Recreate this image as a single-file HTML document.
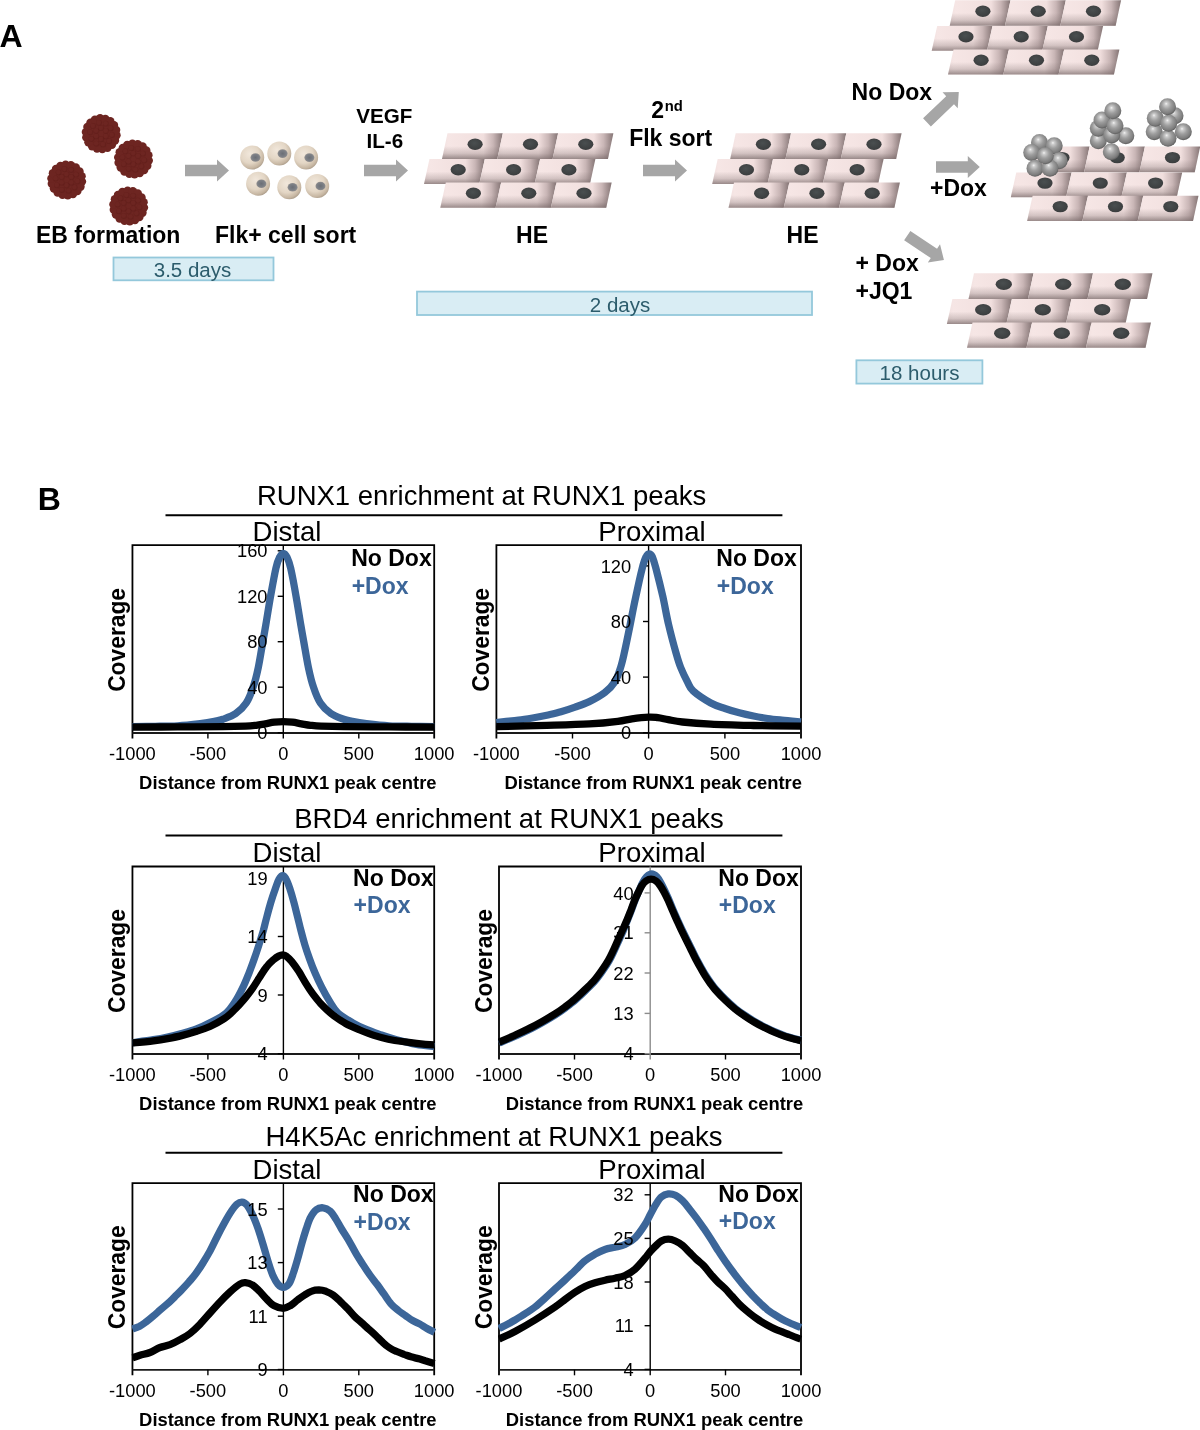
<!DOCTYPE html>
<html><head><meta charset="utf-8"><title>Figure</title>
<style>
html,body{margin:0;padding:0;background:#fff;}
body{width:1200px;height:1430px;overflow:hidden;font-family:"Liberation Sans",sans-serif;}
svg{display:block;font-family:"Liberation Sans",sans-serif;will-change:transform;}
</style></head><body>
<svg width="1200" height="1430" viewBox="0 0 1200 1430">

<defs>
<linearGradient id="cellH" x1="0" y1="0" x2="1" y2="0">
 <stop offset="0" stop-color="#f1e0df"/>
 <stop offset="0.10" stop-color="#f6e6e5"/>
 <stop offset="0.68" stop-color="#f1dfde"/>
 <stop offset="0.84" stop-color="#c9b6b6"/>
 <stop offset="1" stop-color="#857575"/>
</linearGradient>
<linearGradient id="cellV" x1="0" y1="0" x2="0" y2="1">
 <stop offset="0" stop-color="#6e5f5f" stop-opacity="0"/>
 <stop offset="0.5" stop-color="#6e5f5f" stop-opacity="0"/>
 <stop offset="0.78" stop-color="#6e5f5f" stop-opacity="0.25"/>
 <stop offset="1" stop-color="#6e5f5f" stop-opacity="0.68"/>
</linearGradient>
<radialGradient id="nuc" cx="0.45" cy="0.4" r="0.7">
 <stop offset="0" stop-color="#4a4f50"/>
 <stop offset="1" stop-color="#383a3b"/>
</radialGradient>
<radialGradient id="sph" cx="0.46" cy="0.42" r="0.62" fx="0.42" fy="0.32">
 <stop offset="0" stop-color="#f4f4f4"/>
 <stop offset="0.14" stop-color="#cdcdcd"/>
 <stop offset="0.45" stop-color="#9e9e9e"/>
 <stop offset="0.8" stop-color="#7c7c7c"/>
 <stop offset="1" stop-color="#505050"/>
</radialGradient>
<radialGradient id="flk" cx="0.4" cy="0.35" r="0.7">
 <stop offset="0" stop-color="#f1e7db"/>
 <stop offset="0.55" stop-color="#e3d6c5"/>
 <stop offset="0.85" stop-color="#c6b6a2"/>
 <stop offset="1" stop-color="#a59684"/>
</radialGradient>
<radialGradient id="flkn" cx="0.5" cy="0.5" r="0.6">
 <stop offset="0" stop-color="#6b6f76"/>
 <stop offset="0.6" stop-color="#7d8086"/>
 <stop offset="1" stop-color="#a39c96"/>
</radialGradient>
</defs>

<text x="-0.5" y="46.9" font-size="32" font-weight="bold" text-anchor="start" fill="#000" >A</text>
<circle cx="101.2" cy="133.7" r="16.5" fill="#6d2521"/><circle cx="116.5" cy="135.3" r="4.2" fill="#6d2521"/><circle cx="115.0" cy="140.5" r="4.2" fill="#6d2521"/><circle cx="111.9" cy="144.8" r="4.2" fill="#6d2521"/><circle cx="107.5" cy="147.8" r="4.2" fill="#6d2521"/><circle cx="102.3" cy="149.1" r="4.2" fill="#6d2521"/><circle cx="97.0" cy="148.5" r="4.2" fill="#6d2521"/><circle cx="92.1" cy="146.2" r="4.2" fill="#6d2521"/><circle cx="88.4" cy="142.3" r="4.2" fill="#6d2521"/><circle cx="86.3" cy="137.4" r="4.2" fill="#6d2521"/><circle cx="85.9" cy="132.1" r="4.2" fill="#6d2521"/><circle cx="87.4" cy="126.9" r="4.2" fill="#6d2521"/><circle cx="90.5" cy="122.6" r="4.2" fill="#6d2521"/><circle cx="94.9" cy="119.6" r="4.2" fill="#6d2521"/><circle cx="100.1" cy="118.3" r="4.2" fill="#6d2521"/><circle cx="105.4" cy="118.9" r="4.2" fill="#6d2521"/><circle cx="110.3" cy="121.2" r="4.2" fill="#6d2521"/><circle cx="114.0" cy="125.1" r="4.2" fill="#6d2521"/><circle cx="116.1" cy="130.0" r="4.2" fill="#6d2521"/><circle cx="112.1" cy="135.1" r="2.9" fill="#5a1b18" fill-opacity="0.35"/><circle cx="111.7" cy="134.7" r="2.4" fill="#6d2521"/><circle cx="109.2" cy="141.2" r="2.9" fill="#5a1b18" fill-opacity="0.35"/><circle cx="108.8" cy="140.8" r="2.4" fill="#6d2521"/><circle cx="103.3" cy="144.5" r="2.9" fill="#5a1b18" fill-opacity="0.35"/><circle cx="102.9" cy="144.1" r="2.4" fill="#6d2521"/><circle cx="96.5" cy="143.7" r="2.9" fill="#5a1b18" fill-opacity="0.35"/><circle cx="96.1" cy="143.3" r="2.4" fill="#6d2521"/><circle cx="91.6" cy="139.0" r="2.9" fill="#5a1b18" fill-opacity="0.35"/><circle cx="91.2" cy="138.6" r="2.4" fill="#6d2521"/><circle cx="90.3" cy="132.3" r="2.9" fill="#5a1b18" fill-opacity="0.35"/><circle cx="89.9" cy="131.9" r="2.4" fill="#6d2521"/><circle cx="93.2" cy="126.2" r="2.9" fill="#5a1b18" fill-opacity="0.35"/><circle cx="92.8" cy="125.8" r="2.4" fill="#6d2521"/><circle cx="99.1" cy="122.9" r="2.9" fill="#5a1b18" fill-opacity="0.35"/><circle cx="98.7" cy="122.5" r="2.4" fill="#6d2521"/><circle cx="105.9" cy="123.7" r="2.9" fill="#5a1b18" fill-opacity="0.35"/><circle cx="105.5" cy="123.3" r="2.4" fill="#6d2521"/><circle cx="110.8" cy="128.4" r="2.9" fill="#5a1b18" fill-opacity="0.35"/><circle cx="110.4" cy="128.0" r="2.4" fill="#6d2521"/><circle cx="106.0" cy="136.4" r="2.9" fill="#5a1b18" fill-opacity="0.35"/><circle cx="105.6" cy="136.0" r="2.4" fill="#6d2521"/><circle cx="101.2" cy="139.2" r="2.9" fill="#5a1b18" fill-opacity="0.35"/><circle cx="100.8" cy="138.8" r="2.4" fill="#6d2521"/><circle cx="96.4" cy="136.4" r="2.9" fill="#5a1b18" fill-opacity="0.35"/><circle cx="96.0" cy="136.0" r="2.4" fill="#6d2521"/><circle cx="96.4" cy="130.9" r="2.9" fill="#5a1b18" fill-opacity="0.35"/><circle cx="96.0" cy="130.5" r="2.4" fill="#6d2521"/><circle cx="101.2" cy="128.2" r="2.9" fill="#5a1b18" fill-opacity="0.35"/><circle cx="100.8" cy="127.8" r="2.4" fill="#6d2521"/><circle cx="106.0" cy="130.9" r="2.9" fill="#5a1b18" fill-opacity="0.35"/><circle cx="105.6" cy="130.5" r="2.4" fill="#6d2521"/>
<circle cx="133.5" cy="159" r="16.5" fill="#6d2521"/><circle cx="148.8" cy="160.6" r="4.2" fill="#6d2521"/><circle cx="147.3" cy="165.8" r="4.2" fill="#6d2521"/><circle cx="144.2" cy="170.1" r="4.2" fill="#6d2521"/><circle cx="139.8" cy="173.1" r="4.2" fill="#6d2521"/><circle cx="134.6" cy="174.4" r="4.2" fill="#6d2521"/><circle cx="129.3" cy="173.8" r="4.2" fill="#6d2521"/><circle cx="124.4" cy="171.5" r="4.2" fill="#6d2521"/><circle cx="120.7" cy="167.6" r="4.2" fill="#6d2521"/><circle cx="118.6" cy="162.7" r="4.2" fill="#6d2521"/><circle cx="118.2" cy="157.4" r="4.2" fill="#6d2521"/><circle cx="119.7" cy="152.2" r="4.2" fill="#6d2521"/><circle cx="122.8" cy="147.9" r="4.2" fill="#6d2521"/><circle cx="127.2" cy="144.9" r="4.2" fill="#6d2521"/><circle cx="132.4" cy="143.6" r="4.2" fill="#6d2521"/><circle cx="137.7" cy="144.2" r="4.2" fill="#6d2521"/><circle cx="142.6" cy="146.5" r="4.2" fill="#6d2521"/><circle cx="146.3" cy="150.4" r="4.2" fill="#6d2521"/><circle cx="148.4" cy="155.3" r="4.2" fill="#6d2521"/><circle cx="144.4" cy="160.4" r="2.9" fill="#5a1b18" fill-opacity="0.35"/><circle cx="144.0" cy="160.0" r="2.4" fill="#6d2521"/><circle cx="141.5" cy="166.5" r="2.9" fill="#5a1b18" fill-opacity="0.35"/><circle cx="141.1" cy="166.1" r="2.4" fill="#6d2521"/><circle cx="135.6" cy="169.8" r="2.9" fill="#5a1b18" fill-opacity="0.35"/><circle cx="135.2" cy="169.4" r="2.4" fill="#6d2521"/><circle cx="128.8" cy="169.0" r="2.9" fill="#5a1b18" fill-opacity="0.35"/><circle cx="128.4" cy="168.6" r="2.4" fill="#6d2521"/><circle cx="123.9" cy="164.3" r="2.9" fill="#5a1b18" fill-opacity="0.35"/><circle cx="123.5" cy="163.9" r="2.4" fill="#6d2521"/><circle cx="122.6" cy="157.6" r="2.9" fill="#5a1b18" fill-opacity="0.35"/><circle cx="122.2" cy="157.2" r="2.4" fill="#6d2521"/><circle cx="125.5" cy="151.5" r="2.9" fill="#5a1b18" fill-opacity="0.35"/><circle cx="125.1" cy="151.1" r="2.4" fill="#6d2521"/><circle cx="131.4" cy="148.2" r="2.9" fill="#5a1b18" fill-opacity="0.35"/><circle cx="131.0" cy="147.8" r="2.4" fill="#6d2521"/><circle cx="138.2" cy="149.0" r="2.9" fill="#5a1b18" fill-opacity="0.35"/><circle cx="137.8" cy="148.6" r="2.4" fill="#6d2521"/><circle cx="143.1" cy="153.7" r="2.9" fill="#5a1b18" fill-opacity="0.35"/><circle cx="142.7" cy="153.3" r="2.4" fill="#6d2521"/><circle cx="138.3" cy="161.8" r="2.9" fill="#5a1b18" fill-opacity="0.35"/><circle cx="137.9" cy="161.3" r="2.4" fill="#6d2521"/><circle cx="133.5" cy="164.5" r="2.9" fill="#5a1b18" fill-opacity="0.35"/><circle cx="133.1" cy="164.1" r="2.4" fill="#6d2521"/><circle cx="128.7" cy="161.8" r="2.9" fill="#5a1b18" fill-opacity="0.35"/><circle cx="128.3" cy="161.3" r="2.4" fill="#6d2521"/><circle cx="128.7" cy="156.2" r="2.9" fill="#5a1b18" fill-opacity="0.35"/><circle cx="128.3" cy="155.8" r="2.4" fill="#6d2521"/><circle cx="133.5" cy="153.5" r="2.9" fill="#5a1b18" fill-opacity="0.35"/><circle cx="133.1" cy="153.1" r="2.4" fill="#6d2521"/><circle cx="138.3" cy="156.2" r="2.9" fill="#5a1b18" fill-opacity="0.35"/><circle cx="137.9" cy="155.8" r="2.4" fill="#6d2521"/>
<circle cx="66.7" cy="180" r="16.5" fill="#6d2521"/><circle cx="82.0" cy="181.6" r="4.2" fill="#6d2521"/><circle cx="80.5" cy="186.8" r="4.2" fill="#6d2521"/><circle cx="77.4" cy="191.1" r="4.2" fill="#6d2521"/><circle cx="73.0" cy="194.1" r="4.2" fill="#6d2521"/><circle cx="67.8" cy="195.4" r="4.2" fill="#6d2521"/><circle cx="62.5" cy="194.8" r="4.2" fill="#6d2521"/><circle cx="57.6" cy="192.5" r="4.2" fill="#6d2521"/><circle cx="53.9" cy="188.6" r="4.2" fill="#6d2521"/><circle cx="51.8" cy="183.7" r="4.2" fill="#6d2521"/><circle cx="51.4" cy="178.4" r="4.2" fill="#6d2521"/><circle cx="52.9" cy="173.2" r="4.2" fill="#6d2521"/><circle cx="56.0" cy="168.9" r="4.2" fill="#6d2521"/><circle cx="60.4" cy="165.9" r="4.2" fill="#6d2521"/><circle cx="65.6" cy="164.6" r="4.2" fill="#6d2521"/><circle cx="70.9" cy="165.2" r="4.2" fill="#6d2521"/><circle cx="75.8" cy="167.5" r="4.2" fill="#6d2521"/><circle cx="79.5" cy="171.4" r="4.2" fill="#6d2521"/><circle cx="81.6" cy="176.3" r="4.2" fill="#6d2521"/><circle cx="77.6" cy="181.4" r="2.9" fill="#5a1b18" fill-opacity="0.35"/><circle cx="77.2" cy="181.0" r="2.4" fill="#6d2521"/><circle cx="74.7" cy="187.5" r="2.9" fill="#5a1b18" fill-opacity="0.35"/><circle cx="74.3" cy="187.1" r="2.4" fill="#6d2521"/><circle cx="68.8" cy="190.8" r="2.9" fill="#5a1b18" fill-opacity="0.35"/><circle cx="68.4" cy="190.4" r="2.4" fill="#6d2521"/><circle cx="62.0" cy="190.0" r="2.9" fill="#5a1b18" fill-opacity="0.35"/><circle cx="61.6" cy="189.6" r="2.4" fill="#6d2521"/><circle cx="57.1" cy="185.3" r="2.9" fill="#5a1b18" fill-opacity="0.35"/><circle cx="56.7" cy="184.9" r="2.4" fill="#6d2521"/><circle cx="55.8" cy="178.6" r="2.9" fill="#5a1b18" fill-opacity="0.35"/><circle cx="55.4" cy="178.2" r="2.4" fill="#6d2521"/><circle cx="58.7" cy="172.5" r="2.9" fill="#5a1b18" fill-opacity="0.35"/><circle cx="58.3" cy="172.1" r="2.4" fill="#6d2521"/><circle cx="64.6" cy="169.2" r="2.9" fill="#5a1b18" fill-opacity="0.35"/><circle cx="64.2" cy="168.8" r="2.4" fill="#6d2521"/><circle cx="71.4" cy="170.0" r="2.9" fill="#5a1b18" fill-opacity="0.35"/><circle cx="71.0" cy="169.6" r="2.4" fill="#6d2521"/><circle cx="76.3" cy="174.7" r="2.9" fill="#5a1b18" fill-opacity="0.35"/><circle cx="75.9" cy="174.3" r="2.4" fill="#6d2521"/><circle cx="71.5" cy="182.8" r="2.9" fill="#5a1b18" fill-opacity="0.35"/><circle cx="71.1" cy="182.3" r="2.4" fill="#6d2521"/><circle cx="66.7" cy="185.5" r="2.9" fill="#5a1b18" fill-opacity="0.35"/><circle cx="66.3" cy="185.1" r="2.4" fill="#6d2521"/><circle cx="61.9" cy="182.8" r="2.9" fill="#5a1b18" fill-opacity="0.35"/><circle cx="61.5" cy="182.3" r="2.4" fill="#6d2521"/><circle cx="61.9" cy="177.2" r="2.9" fill="#5a1b18" fill-opacity="0.35"/><circle cx="61.5" cy="176.8" r="2.4" fill="#6d2521"/><circle cx="66.7" cy="174.5" r="2.9" fill="#5a1b18" fill-opacity="0.35"/><circle cx="66.3" cy="174.1" r="2.4" fill="#6d2521"/><circle cx="71.5" cy="177.2" r="2.9" fill="#5a1b18" fill-opacity="0.35"/><circle cx="71.1" cy="176.8" r="2.4" fill="#6d2521"/>
<circle cx="128.7" cy="206" r="16.5" fill="#6d2521"/><circle cx="144.0" cy="207.6" r="4.2" fill="#6d2521"/><circle cx="142.5" cy="212.8" r="4.2" fill="#6d2521"/><circle cx="139.4" cy="217.1" r="4.2" fill="#6d2521"/><circle cx="135.0" cy="220.1" r="4.2" fill="#6d2521"/><circle cx="129.8" cy="221.4" r="4.2" fill="#6d2521"/><circle cx="124.5" cy="220.8" r="4.2" fill="#6d2521"/><circle cx="119.6" cy="218.5" r="4.2" fill="#6d2521"/><circle cx="115.9" cy="214.6" r="4.2" fill="#6d2521"/><circle cx="113.8" cy="209.7" r="4.2" fill="#6d2521"/><circle cx="113.4" cy="204.4" r="4.2" fill="#6d2521"/><circle cx="114.9" cy="199.2" r="4.2" fill="#6d2521"/><circle cx="118.0" cy="194.9" r="4.2" fill="#6d2521"/><circle cx="122.4" cy="191.9" r="4.2" fill="#6d2521"/><circle cx="127.6" cy="190.6" r="4.2" fill="#6d2521"/><circle cx="132.9" cy="191.2" r="4.2" fill="#6d2521"/><circle cx="137.8" cy="193.5" r="4.2" fill="#6d2521"/><circle cx="141.5" cy="197.4" r="4.2" fill="#6d2521"/><circle cx="143.6" cy="202.3" r="4.2" fill="#6d2521"/><circle cx="139.6" cy="207.4" r="2.9" fill="#5a1b18" fill-opacity="0.35"/><circle cx="139.2" cy="207.0" r="2.4" fill="#6d2521"/><circle cx="136.7" cy="213.5" r="2.9" fill="#5a1b18" fill-opacity="0.35"/><circle cx="136.3" cy="213.1" r="2.4" fill="#6d2521"/><circle cx="130.8" cy="216.8" r="2.9" fill="#5a1b18" fill-opacity="0.35"/><circle cx="130.4" cy="216.4" r="2.4" fill="#6d2521"/><circle cx="124.0" cy="216.0" r="2.9" fill="#5a1b18" fill-opacity="0.35"/><circle cx="123.6" cy="215.6" r="2.4" fill="#6d2521"/><circle cx="119.1" cy="211.3" r="2.9" fill="#5a1b18" fill-opacity="0.35"/><circle cx="118.7" cy="210.9" r="2.4" fill="#6d2521"/><circle cx="117.8" cy="204.6" r="2.9" fill="#5a1b18" fill-opacity="0.35"/><circle cx="117.4" cy="204.2" r="2.4" fill="#6d2521"/><circle cx="120.7" cy="198.5" r="2.9" fill="#5a1b18" fill-opacity="0.35"/><circle cx="120.3" cy="198.1" r="2.4" fill="#6d2521"/><circle cx="126.6" cy="195.2" r="2.9" fill="#5a1b18" fill-opacity="0.35"/><circle cx="126.2" cy="194.8" r="2.4" fill="#6d2521"/><circle cx="133.4" cy="196.0" r="2.9" fill="#5a1b18" fill-opacity="0.35"/><circle cx="133.0" cy="195.6" r="2.4" fill="#6d2521"/><circle cx="138.3" cy="200.7" r="2.9" fill="#5a1b18" fill-opacity="0.35"/><circle cx="137.9" cy="200.3" r="2.4" fill="#6d2521"/><circle cx="133.5" cy="208.8" r="2.9" fill="#5a1b18" fill-opacity="0.35"/><circle cx="133.1" cy="208.3" r="2.4" fill="#6d2521"/><circle cx="128.7" cy="211.5" r="2.9" fill="#5a1b18" fill-opacity="0.35"/><circle cx="128.3" cy="211.1" r="2.4" fill="#6d2521"/><circle cx="123.9" cy="208.8" r="2.9" fill="#5a1b18" fill-opacity="0.35"/><circle cx="123.5" cy="208.3" r="2.4" fill="#6d2521"/><circle cx="123.9" cy="203.2" r="2.9" fill="#5a1b18" fill-opacity="0.35"/><circle cx="123.5" cy="202.8" r="2.4" fill="#6d2521"/><circle cx="128.7" cy="200.5" r="2.9" fill="#5a1b18" fill-opacity="0.35"/><circle cx="128.3" cy="200.1" r="2.4" fill="#6d2521"/><circle cx="133.5" cy="203.2" r="2.9" fill="#5a1b18" fill-opacity="0.35"/><circle cx="133.1" cy="202.8" r="2.4" fill="#6d2521"/>
<text x="36" y="242.7" font-size="23" font-weight="bold" text-anchor="start" fill="#000" >EB formation</text>
<polygon points="185.0,164.8 217.0,164.8 217.0,159.5 229.0,170.5 217.0,181.5 217.0,176.2 185.0,176.2" fill="#a6a6a6"/>
<circle cx="252.2" cy="157.5" r="12" fill="url(#flk)"/>
<ellipse cx="255.5" cy="157.5" rx="5" ry="4.3" fill="url(#flkn)"/>
<circle cx="279.3" cy="153.6" r="12" fill="url(#flk)"/>
<ellipse cx="282.6" cy="153.6" rx="5" ry="4.3" fill="url(#flkn)"/>
<circle cx="306.1" cy="157.6" r="12" fill="url(#flk)"/>
<ellipse cx="309.40000000000003" cy="157.6" rx="5" ry="4.3" fill="url(#flkn)"/>
<circle cx="258.1" cy="183.7" r="12" fill="url(#flk)"/>
<ellipse cx="261.40000000000003" cy="183.7" rx="5" ry="4.3" fill="url(#flkn)"/>
<circle cx="289.3" cy="187.2" r="12" fill="url(#flk)"/>
<ellipse cx="292.6" cy="187.2" rx="5" ry="4.3" fill="url(#flkn)"/>
<circle cx="317.2" cy="186" r="12" fill="url(#flk)"/>
<ellipse cx="320.5" cy="186" rx="5" ry="4.3" fill="url(#flkn)"/>
<text x="215" y="242.7" font-size="23" font-weight="bold" text-anchor="start" fill="#000" >Flk+ cell sort</text>
<text x="384.4" y="123.3" font-size="20.6" font-weight="bold" text-anchor="middle" fill="#000" >VEGF</text>
<text x="384.8" y="147.9" font-size="20.6" font-weight="bold" text-anchor="middle" fill="#000" >IL-6</text>
<polygon points="364.0,164.8 396.0,164.8 396.0,159.5 408.0,170.5 396.0,181.5 396.0,176.2 364.0,176.2" fill="#a6a6a6"/>
<polygon points="447.5,133.3 502.8,133.3 497.3,158.9 442.0,158.9" fill="url(#cellH)"/>
<polygon points="447.5,133.3 502.8,133.3 497.3,158.9 442.0,158.9" fill="url(#cellV)"/>
<ellipse cx="475.1" cy="144.3" rx="7.6" ry="5.7" fill="url(#nuc)"/>
<polygon points="502.8,133.3 558.1,133.3 552.6,158.9 497.3,158.9" fill="url(#cellH)"/>
<polygon points="502.8,133.3 558.1,133.3 552.6,158.9 497.3,158.9" fill="url(#cellV)"/>
<ellipse cx="530.5" cy="144.3" rx="7.6" ry="5.7" fill="url(#nuc)"/>
<polygon points="558.1,133.3 613.4,133.3 607.9,158.9 552.6,158.9" fill="url(#cellH)"/>
<polygon points="558.1,133.3 613.4,133.3 607.9,158.9 552.6,158.9" fill="url(#cellV)"/>
<ellipse cx="585.8" cy="144.3" rx="7.6" ry="5.7" fill="url(#nuc)"/>
<polygon points="429.5,159.1 484.8,159.1 479.3,183.9 424.0,183.9" fill="url(#cellH)"/>
<polygon points="429.5,159.1 484.8,159.1 479.3,183.9 424.0,183.9" fill="url(#cellV)"/>
<ellipse cx="458.2" cy="169.8" rx="7.6" ry="5.7" fill="url(#nuc)"/>
<polygon points="484.8,159.1 540.1,159.1 534.6,183.9 479.3,183.9" fill="url(#cellH)"/>
<polygon points="484.8,159.1 540.1,159.1 534.6,183.9 479.3,183.9" fill="url(#cellV)"/>
<ellipse cx="513.6" cy="169.8" rx="7.6" ry="5.7" fill="url(#nuc)"/>
<polygon points="540.1,159.1 595.4,159.1 589.9,183.9 534.6,183.9" fill="url(#cellH)"/>
<polygon points="540.1,159.1 595.4,159.1 589.9,183.9 534.6,183.9" fill="url(#cellV)"/>
<ellipse cx="568.9" cy="169.8" rx="7.6" ry="5.7" fill="url(#nuc)"/>
<polygon points="445.8,182.5 501.1,182.5 495.6,207.7 440.3,207.7" fill="url(#cellH)"/>
<polygon points="445.8,182.5 501.1,182.5 495.6,207.7 440.3,207.7" fill="url(#cellV)"/>
<ellipse cx="473.4" cy="193.3" rx="7.6" ry="5.7" fill="url(#nuc)"/>
<polygon points="501.1,182.5 556.4,182.5 550.9,207.7 495.6,207.7" fill="url(#cellH)"/>
<polygon points="501.1,182.5 556.4,182.5 550.9,207.7 495.6,207.7" fill="url(#cellV)"/>
<ellipse cx="528.8" cy="193.3" rx="7.6" ry="5.7" fill="url(#nuc)"/>
<polygon points="556.4,182.5 611.7,182.5 606.2,207.7 550.9,207.7" fill="url(#cellH)"/>
<polygon points="556.4,182.5 611.7,182.5 606.2,207.7 550.9,207.7" fill="url(#cellV)"/>
<ellipse cx="584.0" cy="193.3" rx="7.6" ry="5.7" fill="url(#nuc)"/>
<text x="532" y="242.7" font-size="23" font-weight="bold" text-anchor="middle" fill="#000" >HE</text>
<rect x="113.5" y="257.5" width="160.0" height="22.8" fill="#d9edf4" stroke="#94c8db" stroke-width="1.8"/>
<text x="192.5" y="276.90000000000003" font-size="20.5" font-weight="normal" text-anchor="middle" fill="#2c5c6c" >3.5 days</text>
<rect x="417" y="291.6" width="395.0" height="23.4" fill="#d9edf4" stroke="#94c8db" stroke-width="1.8"/>
<text x="620" y="311.6" font-size="20.5" font-weight="normal" text-anchor="middle" fill="#2c5c6c" >2 days</text>
<text x="651.3" y="118.3" font-size="23" font-weight="bold" fill="#000">2<tspan font-size="14.8" dy="-7.2" dx="0.6">nd</tspan></text>
<text x="670.7" y="145.7" font-size="23" font-weight="bold" text-anchor="middle" fill="#000" >Flk sort</text>
<polygon points="643.0,164.8 675.0,164.8 675.0,159.5 687.0,170.5 675.0,181.5 675.0,176.2 643.0,176.2" fill="#a6a6a6"/>
<polygon points="735.7,133.3 791.0,133.3 785.5,158.9 730.2,158.9" fill="url(#cellH)"/>
<polygon points="735.7,133.3 791.0,133.3 785.5,158.9 730.2,158.9" fill="url(#cellV)"/>
<ellipse cx="763.4" cy="144.3" rx="7.6" ry="5.7" fill="url(#nuc)"/>
<polygon points="791.0,133.3 846.3,133.3 840.8,158.9 785.5,158.9" fill="url(#cellH)"/>
<polygon points="791.0,133.3 846.3,133.3 840.8,158.9 785.5,158.9" fill="url(#cellV)"/>
<ellipse cx="818.6" cy="144.3" rx="7.6" ry="5.7" fill="url(#nuc)"/>
<polygon points="846.3,133.3 901.6,133.3 896.1,158.9 840.8,158.9" fill="url(#cellH)"/>
<polygon points="846.3,133.3 901.6,133.3 896.1,158.9 840.8,158.9" fill="url(#cellV)"/>
<ellipse cx="874.0" cy="144.3" rx="7.6" ry="5.7" fill="url(#nuc)"/>
<polygon points="717.7,159.1 773.0,159.1 767.5,183.9 712.2,183.9" fill="url(#cellH)"/>
<polygon points="717.7,159.1 773.0,159.1 767.5,183.9 712.2,183.9" fill="url(#cellV)"/>
<ellipse cx="746.5" cy="169.8" rx="7.6" ry="5.7" fill="url(#nuc)"/>
<polygon points="773.0,159.1 828.3,159.1 822.8,183.9 767.5,183.9" fill="url(#cellH)"/>
<polygon points="773.0,159.1 828.3,159.1 822.8,183.9 767.5,183.9" fill="url(#cellV)"/>
<ellipse cx="801.8" cy="169.8" rx="7.6" ry="5.7" fill="url(#nuc)"/>
<polygon points="828.3,159.1 883.6,159.1 878.1,183.9 822.8,183.9" fill="url(#cellH)"/>
<polygon points="828.3,159.1 883.6,159.1 878.1,183.9 822.8,183.9" fill="url(#cellV)"/>
<ellipse cx="857.1" cy="169.8" rx="7.6" ry="5.7" fill="url(#nuc)"/>
<polygon points="734.0,182.5 789.3,182.5 783.8,207.7 728.5,207.7" fill="url(#cellH)"/>
<polygon points="734.0,182.5 789.3,182.5 783.8,207.7 728.5,207.7" fill="url(#cellV)"/>
<ellipse cx="761.6" cy="193.3" rx="7.6" ry="5.7" fill="url(#nuc)"/>
<polygon points="789.3,182.5 844.6,182.5 839.1,207.7 783.8,207.7" fill="url(#cellH)"/>
<polygon points="789.3,182.5 844.6,182.5 839.1,207.7 783.8,207.7" fill="url(#cellV)"/>
<ellipse cx="816.9" cy="193.3" rx="7.6" ry="5.7" fill="url(#nuc)"/>
<polygon points="844.6,182.5 899.9,182.5 894.4,207.7 839.1,207.7" fill="url(#cellH)"/>
<polygon points="844.6,182.5 899.9,182.5 894.4,207.7 839.1,207.7" fill="url(#cellV)"/>
<ellipse cx="872.2" cy="193.3" rx="7.6" ry="5.7" fill="url(#nuc)"/>
<text x="802.5" y="242.7" font-size="23" font-weight="bold" text-anchor="middle" fill="#000" >HE</text>
<text x="851.6" y="100" font-size="23" font-weight="bold" text-anchor="start" fill="#000" >No Dox</text>
<polygon points="920.9,101.5 952.9,101.5 952.9,96.2 964.9,107.2 952.9,118.2 952.9,112.8 920.9,112.8" fill="#a6a6a6" transform="rotate(-43.7 942.9 107.2)"/>
<polygon points="955.2,0.2 1010.5,0.2 1005.0,25.8 949.7,25.8" fill="url(#cellH)"/>
<polygon points="955.2,0.2 1010.5,0.2 1005.0,25.8 949.7,25.8" fill="url(#cellV)"/>
<ellipse cx="982.9" cy="11.2" rx="7.6" ry="5.7" fill="url(#nuc)"/>
<polygon points="1010.5,0.2 1065.8,0.2 1060.3,25.8 1005.0,25.8" fill="url(#cellH)"/>
<polygon points="1010.5,0.2 1065.8,0.2 1060.3,25.8 1005.0,25.8" fill="url(#cellV)"/>
<ellipse cx="1038.2" cy="11.2" rx="7.6" ry="5.7" fill="url(#nuc)"/>
<polygon points="1065.8,0.2 1121.1,0.2 1115.6,25.8 1060.3,25.8" fill="url(#cellH)"/>
<polygon points="1065.8,0.2 1121.1,0.2 1115.6,25.8 1060.3,25.8" fill="url(#cellV)"/>
<ellipse cx="1093.5" cy="11.2" rx="7.6" ry="5.7" fill="url(#nuc)"/>
<polygon points="937.2,26.0 992.5,26.0 987.0,50.8 931.7,50.8" fill="url(#cellH)"/>
<polygon points="937.2,26.0 992.5,26.0 987.0,50.8 931.7,50.8" fill="url(#cellV)"/>
<ellipse cx="966.0" cy="36.7" rx="7.6" ry="5.7" fill="url(#nuc)"/>
<polygon points="992.5,26.0 1047.8,26.0 1042.3,50.8 987.0,50.8" fill="url(#cellH)"/>
<polygon points="992.5,26.0 1047.8,26.0 1042.3,50.8 987.0,50.8" fill="url(#cellV)"/>
<ellipse cx="1021.2" cy="36.7" rx="7.6" ry="5.7" fill="url(#nuc)"/>
<polygon points="1047.8,26.0 1103.1,26.0 1097.6,50.8 1042.3,50.8" fill="url(#cellH)"/>
<polygon points="1047.8,26.0 1103.1,26.0 1097.6,50.8 1042.3,50.8" fill="url(#cellV)"/>
<ellipse cx="1076.5" cy="36.7" rx="7.6" ry="5.7" fill="url(#nuc)"/>
<polygon points="953.5,49.4 1008.8,49.4 1003.3,74.6 948.0,74.6" fill="url(#cellH)"/>
<polygon points="953.5,49.4 1008.8,49.4 1003.3,74.6 948.0,74.6" fill="url(#cellV)"/>
<ellipse cx="981.1" cy="60.2" rx="7.6" ry="5.7" fill="url(#nuc)"/>
<polygon points="1008.8,49.4 1064.1,49.4 1058.6,74.6 1003.3,74.6" fill="url(#cellH)"/>
<polygon points="1008.8,49.4 1064.1,49.4 1058.6,74.6 1003.3,74.6" fill="url(#cellV)"/>
<ellipse cx="1036.5" cy="60.2" rx="7.6" ry="5.7" fill="url(#nuc)"/>
<polygon points="1064.1,49.4 1119.4,49.4 1113.9,74.6 1058.6,74.6" fill="url(#cellH)"/>
<polygon points="1064.1,49.4 1119.4,49.4 1113.9,74.6 1058.6,74.6" fill="url(#cellV)"/>
<ellipse cx="1091.8" cy="60.2" rx="7.6" ry="5.7" fill="url(#nuc)"/>
<polygon points="936.0,161.3 967.8,161.3 967.8,156.0 979.8,167.0 967.8,178.0 967.8,172.7 936.0,172.7" fill="#a6a6a6"/>
<text x="930" y="196" font-size="23" font-weight="bold" text-anchor="start" fill="#000" >+Dox</text>
<polygon points="1034.3,146.6 1089.6,146.6 1084.1,172.2 1028.8,172.2" fill="url(#cellH)"/>
<polygon points="1034.3,146.6 1089.6,146.6 1084.1,172.2 1028.8,172.2" fill="url(#cellV)"/>
<ellipse cx="1062.0" cy="157.6" rx="7.6" ry="5.7" fill="url(#nuc)"/>
<polygon points="1089.6,146.6 1144.9,146.6 1139.4,172.2 1084.1,172.2" fill="url(#cellH)"/>
<polygon points="1089.6,146.6 1144.9,146.6 1139.4,172.2 1084.1,172.2" fill="url(#cellV)"/>
<ellipse cx="1117.2" cy="157.6" rx="7.6" ry="5.7" fill="url(#nuc)"/>
<polygon points="1144.9,146.6 1200.2,146.6 1194.7,172.2 1139.4,172.2" fill="url(#cellH)"/>
<polygon points="1144.9,146.6 1200.2,146.6 1194.7,172.2 1139.4,172.2" fill="url(#cellV)"/>
<ellipse cx="1172.5" cy="157.6" rx="7.6" ry="5.7" fill="url(#nuc)"/>
<polygon points="1016.3,172.4 1071.6,172.4 1066.1,197.2 1010.8,197.2" fill="url(#cellH)"/>
<polygon points="1016.3,172.4 1071.6,172.4 1066.1,197.2 1010.8,197.2" fill="url(#cellV)"/>
<ellipse cx="1045.0" cy="183.1" rx="7.6" ry="5.7" fill="url(#nuc)"/>
<polygon points="1071.6,172.4 1126.9,172.4 1121.4,197.2 1066.1,197.2" fill="url(#cellH)"/>
<polygon points="1071.6,172.4 1126.9,172.4 1121.4,197.2 1066.1,197.2" fill="url(#cellV)"/>
<ellipse cx="1100.3" cy="183.1" rx="7.6" ry="5.7" fill="url(#nuc)"/>
<polygon points="1126.9,172.4 1182.2,172.4 1176.7,197.2 1121.4,197.2" fill="url(#cellH)"/>
<polygon points="1126.9,172.4 1182.2,172.4 1176.7,197.2 1121.4,197.2" fill="url(#cellV)"/>
<ellipse cx="1155.6" cy="183.1" rx="7.6" ry="5.7" fill="url(#nuc)"/>
<polygon points="1032.6,195.8 1087.9,195.8 1082.4,221.0 1027.1,221.0" fill="url(#cellH)"/>
<polygon points="1032.6,195.8 1087.9,195.8 1082.4,221.0 1027.1,221.0" fill="url(#cellV)"/>
<ellipse cx="1060.2" cy="206.6" rx="7.6" ry="5.7" fill="url(#nuc)"/>
<polygon points="1087.9,195.8 1143.2,195.8 1137.7,221.0 1082.4,221.0" fill="url(#cellH)"/>
<polygon points="1087.9,195.8 1143.2,195.8 1137.7,221.0 1082.4,221.0" fill="url(#cellV)"/>
<ellipse cx="1115.5" cy="206.6" rx="7.6" ry="5.7" fill="url(#nuc)"/>
<polygon points="1143.2,195.8 1198.5,195.8 1193.0,221.0 1137.7,221.0" fill="url(#cellH)"/>
<polygon points="1143.2,195.8 1198.5,195.8 1193.0,221.0 1137.7,221.0" fill="url(#cellV)"/>
<ellipse cx="1170.8" cy="206.6" rx="7.6" ry="5.7" fill="url(#nuc)"/>
<circle cx="1039.5" cy="142.5" r="8.5" fill="url(#sph)"/>
<circle cx="1054.2" cy="145.8" r="8.5" fill="url(#sph)"/>
<circle cx="1031.7" cy="152.5" r="8.5" fill="url(#sph)"/>
<circle cx="1059.2" cy="160.8" r="8.5" fill="url(#sph)"/>
<circle cx="1035.0" cy="168.3" r="8.5" fill="url(#sph)"/>
<circle cx="1050.0" cy="168.3" r="8.5" fill="url(#sph)"/>
<circle cx="1045.3" cy="155.8" r="8.5" fill="url(#sph)"/>
<circle cx="1111.3" cy="151.7" r="8.5" fill="url(#sph)"/>
<circle cx="1098.3" cy="140.8" r="8.5" fill="url(#sph)"/>
<circle cx="1125.8" cy="135.8" r="8.5" fill="url(#sph)"/>
<circle cx="1098.3" cy="128.3" r="8.5" fill="url(#sph)"/>
<circle cx="1111.7" cy="135.0" r="8.5" fill="url(#sph)"/>
<circle cx="1102.0" cy="120.0" r="8.5" fill="url(#sph)"/>
<circle cx="1115.0" cy="125.8" r="8.5" fill="url(#sph)"/>
<circle cx="1112.8" cy="110.8" r="8.5" fill="url(#sph)"/>
<circle cx="1175.0" cy="115.8" r="8.5" fill="url(#sph)"/>
<circle cx="1183.3" cy="131.7" r="8.5" fill="url(#sph)"/>
<circle cx="1154.2" cy="131.7" r="8.5" fill="url(#sph)"/>
<circle cx="1168.0" cy="138.3" r="8.5" fill="url(#sph)"/>
<circle cx="1155.3" cy="118.3" r="8.5" fill="url(#sph)"/>
<circle cx="1168.7" cy="123.3" r="8.5" fill="url(#sph)"/>
<circle cx="1167.5" cy="106.7" r="8.5" fill="url(#sph)"/>
<polygon points="903.6,242.2 935.6,242.2 935.6,236.8 947.6,247.8 935.6,258.8 935.6,253.5 903.6,253.5" fill="#a6a6a6" transform="rotate(33.6 925.6 247.8)"/>
<text x="855.5" y="270.8" font-size="23" font-weight="bold" text-anchor="start" fill="#000" >+ Dox</text>
<text x="855.5" y="299" font-size="23" font-weight="bold" text-anchor="start" fill="#000" >+JQ1</text>
<polygon points="974.0,273.3 1033.5,273.3 1028.0,298.9 968.5,298.9" fill="url(#cellH)"/>
<polygon points="974.0,273.3 1033.5,273.3 1028.0,298.9 968.5,298.9" fill="url(#cellV)"/>
<ellipse cx="1003.8" cy="284.3" rx="8.177215189873417" ry="5.7" fill="url(#nuc)"/>
<polygon points="1033.5,273.3 1093.0,273.3 1087.5,298.9 1028.0,298.9" fill="url(#cellH)"/>
<polygon points="1033.5,273.3 1093.0,273.3 1087.5,298.9 1028.0,298.9" fill="url(#cellV)"/>
<ellipse cx="1063.2" cy="284.3" rx="8.177215189873417" ry="5.7" fill="url(#nuc)"/>
<polygon points="1093.0,273.3 1152.5,273.3 1147.0,298.9 1087.5,298.9" fill="url(#cellH)"/>
<polygon points="1093.0,273.3 1152.5,273.3 1147.0,298.9 1087.5,298.9" fill="url(#cellV)"/>
<ellipse cx="1122.8" cy="284.3" rx="8.177215189873417" ry="5.7" fill="url(#nuc)"/>
<polygon points="952.4,299.1 1011.9,299.1 1006.4,323.9 946.9,323.9" fill="url(#cellH)"/>
<polygon points="952.4,299.1 1011.9,299.1 1006.4,323.9 946.9,323.9" fill="url(#cellV)"/>
<ellipse cx="983.2" cy="309.8" rx="8.177215189873417" ry="5.7" fill="url(#nuc)"/>
<polygon points="1011.9,299.1 1071.4,299.1 1065.9,323.9 1006.4,323.9" fill="url(#cellH)"/>
<polygon points="1011.9,299.1 1071.4,299.1 1065.9,323.9 1006.4,323.9" fill="url(#cellV)"/>
<ellipse cx="1042.8" cy="309.8" rx="8.177215189873417" ry="5.7" fill="url(#nuc)"/>
<polygon points="1071.4,299.1 1130.9,299.1 1125.4,323.9 1065.9,323.9" fill="url(#cellH)"/>
<polygon points="1071.4,299.1 1130.9,299.1 1125.4,323.9 1065.9,323.9" fill="url(#cellV)"/>
<ellipse cx="1102.2" cy="309.8" rx="8.177215189873417" ry="5.7" fill="url(#nuc)"/>
<polygon points="972.5,322.5 1032.0,322.5 1026.5,347.7 967.0,347.7" fill="url(#cellH)"/>
<polygon points="972.5,322.5 1032.0,322.5 1026.5,347.7 967.0,347.7" fill="url(#cellV)"/>
<ellipse cx="1002.2" cy="333.3" rx="8.177215189873417" ry="5.7" fill="url(#nuc)"/>
<polygon points="1032.0,322.5 1091.5,322.5 1086.0,347.7 1026.5,347.7" fill="url(#cellH)"/>
<polygon points="1032.0,322.5 1091.5,322.5 1086.0,347.7 1026.5,347.7" fill="url(#cellV)"/>
<ellipse cx="1061.8" cy="333.3" rx="8.177215189873417" ry="5.7" fill="url(#nuc)"/>
<polygon points="1091.5,322.5 1151.0,322.5 1145.5,347.7 1086.0,347.7" fill="url(#cellH)"/>
<polygon points="1091.5,322.5 1151.0,322.5 1145.5,347.7 1086.0,347.7" fill="url(#cellV)"/>
<ellipse cx="1121.2" cy="333.3" rx="8.177215189873417" ry="5.7" fill="url(#nuc)"/>
<rect x="856.4" y="360.3" width="126.0" height="23.3" fill="#d9edf4" stroke="#94c8db" stroke-width="1.8"/>
<text x="919.5" y="380.20000000000005" font-size="20.5" font-weight="normal" text-anchor="middle" fill="#2c5c6c" >18 hours</text>
<text x="37.7" y="510" font-size="32" font-weight="bold" text-anchor="start" fill="#000" >B</text>
<text x="706.3" y="505.4" font-size="27.5" font-weight="normal" text-anchor="end" fill="#000" >RUNX1 enrichment at RUNX1 peaks</text>
<line x1="165.5" y1="515.2" x2="782.4" y2="515.2" stroke="#000" stroke-width="2"/>
<path d="M132.45,738.5 V545.2 H434.2 V738.5" fill="none" stroke="#000" stroke-width="1.8"/>
<line x1="132.45" y1="733" x2="434.2" y2="733" stroke="#1a1a1a" stroke-width="1.8"/>
<line x1="283.3" y1="545.2" x2="283.3" y2="738.5" stroke="#000" stroke-width="1.4"/>
<line x1="207.9" y1="733" x2="207.9" y2="738.5" stroke="#000" stroke-width="1.4"/>
<line x1="358.8" y1="733" x2="358.8" y2="738.5" stroke="#000" stroke-width="1.4"/>
<text x="132.4" y="760.4" font-size="18.3" font-weight="normal" text-anchor="middle" fill="#000" >-1000</text>
<text x="207.9" y="760.4" font-size="18.3" font-weight="normal" text-anchor="middle" fill="#000" >-500</text>
<text x="283.3" y="760.4" font-size="18.3" font-weight="normal" text-anchor="middle" fill="#000" >0</text>
<text x="358.8" y="760.4" font-size="18.3" font-weight="normal" text-anchor="middle" fill="#000" >500</text>
<text x="434.2" y="760.4" font-size="18.3" font-weight="normal" text-anchor="middle" fill="#000" >1000</text>
<line x1="277.7" y1="550.8" x2="283.3" y2="550.8" stroke="#000" stroke-width="1.4"/>
<line x1="277.7" y1="596.3" x2="283.3" y2="596.3" stroke="#000" stroke-width="1.4"/>
<line x1="277.7" y1="641.7" x2="283.3" y2="641.7" stroke="#000" stroke-width="1.4"/>
<line x1="277.7" y1="687.2" x2="283.3" y2="687.2" stroke="#000" stroke-width="1.4"/>
<line x1="277.7" y1="732.7" x2="283.3" y2="732.7" stroke="#000" stroke-width="1.4"/>
<clipPath id="clip132_545"><rect x="131.45" y="533.2" width="305.25" height="207.79999999999995"/></clipPath>
<path d="M132.4,726.7 C136.2,726.6 147.5,726.5 155.1,726.3 C162.6,726.2 170.2,726.2 177.7,725.8 C185.2,725.3 194.1,724.3 200.2,723.6 C206.3,722.9 210.6,722.1 214.4,721.3 C218.2,720.6 219.4,720.6 223.0,719.3 C226.5,718.0 231.9,716.3 235.8,713.6 C239.7,710.9 243.3,707.5 246.2,703.1 C249.1,698.7 251.1,693.2 253.1,687.2 C255.2,681.3 256.7,675.0 258.3,667.4 C259.9,659.9 261.5,649.1 262.8,642.0 C264.1,634.9 264.5,632.5 265.8,624.9 C267.1,617.4 268.8,606.1 270.5,596.6 C272.2,587.2 274.4,574.8 275.9,568.2 C277.4,561.6 278.3,559.8 279.6,557.3 C280.8,554.8 282.1,553.3 283.3,553.3 C284.6,553.3 285.9,554.8 287.1,557.3 C288.3,559.8 289.2,561.6 290.7,568.2 C292.2,574.8 294.5,587.2 296.1,596.6 C297.8,606.1 299.5,617.4 300.8,624.9 C302.1,632.5 302.6,634.9 303.8,642.0 C305.1,649.1 306.8,659.9 308.4,667.4 C310.0,675.0 311.5,681.3 313.5,687.2 C315.5,693.2 317.5,698.7 320.4,703.1 C323.3,707.5 327.0,710.9 330.9,713.6 C334.7,716.3 340.1,718.0 343.7,719.3 C347.2,720.6 348.5,720.6 352.3,721.3 C356.1,722.1 360.3,722.9 366.5,723.6 C372.6,724.3 381.4,725.3 388.9,725.8 C396.5,726.2 404.0,726.2 411.6,726.3 C419.1,726.5 430.4,726.6 434.2,726.7" fill="none" stroke="#3c6699" stroke-width="7.3" stroke-linejoin="round" stroke-linecap="butt" clip-path="url(#clip132_545)"/>
<path d="M132.4,727.1 C140.0,727.1 162.6,727.0 177.7,726.9 C192.8,726.8 211.7,726.8 223.0,726.7 C234.3,726.6 240.1,726.4 245.6,726.2 C251.1,726.0 252.9,725.7 256.2,725.3 C259.4,724.9 262.2,724.3 265.2,723.8 C268.2,723.3 271.3,722.6 274.3,722.2 C277.3,721.9 280.3,721.7 283.3,721.7 C286.3,721.7 289.4,721.9 292.4,722.2 C295.4,722.6 298.4,723.3 301.4,723.8 C304.4,724.3 307.2,724.9 310.5,725.3 C313.8,725.7 315.5,726.0 321.0,726.2 C326.6,726.4 332.4,726.6 343.7,726.7 C355.0,726.8 373.9,726.8 388.9,726.9 C404.0,727.0 426.7,727.1 434.2,727.1" fill="none" stroke="#000" stroke-width="7.3" stroke-linejoin="round" stroke-linecap="butt" clip-path="url(#clip132_545)"/>
<text x="267.5" y="557.4" font-size="18.3" font-weight="normal" text-anchor="end" fill="#000" >160</text>
<text x="267.5" y="602.9" font-size="18.3" font-weight="normal" text-anchor="end" fill="#000" >120</text>
<text x="267.5" y="648.3" font-size="18.3" font-weight="normal" text-anchor="end" fill="#000" >80</text>
<text x="267.5" y="693.8" font-size="18.3" font-weight="normal" text-anchor="end" fill="#000" >40</text>
<text x="267.5" y="739.3" font-size="18.3" font-weight="normal" text-anchor="end" fill="#000" >0</text>
<text x="287" y="540.7" font-size="27.6" font-weight="normal" text-anchor="middle" fill="#000" >Distal</text>
<text x="351.2" y="566.0" font-size="23" font-weight="bold" text-anchor="start" fill="#000" >No Dox</text>
<text x="351.7" y="593.5" font-size="23" font-weight="bold" text-anchor="start" fill="#3c6699" >+Dox</text>
<text transform="translate(125.0,639.9) rotate(-90) scale(1,1.06)" font-size="22.8" font-weight="bold" text-anchor="middle">Coverage</text>
<text x="287.825" y="789" font-size="18.4" font-weight="bold" text-anchor="middle" fill="#000" >Distance from RUNX1 peak centre</text>
<path d="M496.4,738.5 V545.2 H801 V738.5" fill="none" stroke="#000" stroke-width="1.8"/>
<line x1="496.4" y1="733" x2="801" y2="733" stroke="#1a1a1a" stroke-width="1.8"/>
<line x1="648.6" y1="545.2" x2="648.6" y2="738.5" stroke="#000" stroke-width="1.4"/>
<line x1="572.5" y1="733" x2="572.5" y2="738.5" stroke="#000" stroke-width="1.4"/>
<line x1="724.9" y1="733" x2="724.9" y2="738.5" stroke="#000" stroke-width="1.4"/>
<text x="496.4" y="760.4" font-size="18.3" font-weight="normal" text-anchor="middle" fill="#000" >-1000</text>
<text x="572.5" y="760.4" font-size="18.3" font-weight="normal" text-anchor="middle" fill="#000" >-500</text>
<text x="648.7" y="760.4" font-size="18.3" font-weight="normal" text-anchor="middle" fill="#000" >0</text>
<text x="724.9" y="760.4" font-size="18.3" font-weight="normal" text-anchor="middle" fill="#000" >500</text>
<text x="801.0" y="760.4" font-size="18.3" font-weight="normal" text-anchor="middle" fill="#000" >1000</text>
<line x1="643.0" y1="565.9" x2="648.6" y2="565.9" stroke="#000" stroke-width="1.4"/>
<line x1="643.0" y1="621.5" x2="648.6" y2="621.5" stroke="#000" stroke-width="1.4"/>
<line x1="643.0" y1="677.1" x2="648.6" y2="677.1" stroke="#000" stroke-width="1.4"/>
<line x1="643.0" y1="732.7" x2="648.6" y2="732.7" stroke="#000" stroke-width="1.4"/>
<clipPath id="clip496_545"><rect x="495.4" y="533.2" width="308.1" height="207.79999999999995"/></clipPath>
<path d="M496.4,722.7 C497.7,722.5 500.5,722.1 504.2,721.7 C507.8,721.3 513.7,720.8 518.5,720.2 C523.2,719.6 527.9,718.8 532.6,718.0 C537.4,717.1 542.1,716.2 546.8,715.2 C551.5,714.1 556.3,713.1 561.0,711.7 C565.7,710.4 570.4,708.8 575.1,707.1 C579.9,705.4 584.3,704.0 589.3,701.6 C594.3,699.1 600.7,695.6 605.0,692.3 C609.3,688.9 612.3,685.8 614.9,681.7 C617.5,677.6 619.1,672.2 620.6,667.5 C622.1,662.8 622.6,660.4 624.2,653.3 C625.8,646.2 628.2,634.4 630.1,625.0 C632.0,615.5 633.7,606.2 635.8,596.8 C637.8,587.3 640.5,574.9 642.2,568.3 C643.9,561.6 644.8,559.3 646.0,556.9 C647.1,554.5 648.1,553.9 649.2,553.9 C650.2,553.9 651.2,554.5 652.4,556.9 C653.5,559.3 654.1,561.6 655.9,568.3 C657.6,574.9 660.7,587.3 662.9,596.8 C665.0,606.2 666.4,615.5 668.7,625.0 C670.9,634.4 674.1,646.2 676.1,653.3 C678.1,660.4 678.8,662.8 680.7,667.5 C682.6,672.2 685.3,677.8 687.4,681.7 C689.5,685.6 689.3,687.5 693.2,691.0 C697.1,694.5 705.5,700.0 710.8,703.0 C716.1,705.9 720.3,706.9 725.0,708.5 C729.7,710.2 734.6,711.6 739.3,712.8 C744.1,714.1 748.8,715.1 753.5,716.0 C758.2,717.0 762.9,717.8 767.6,718.5 C772.4,719.2 776.3,719.6 781.8,720.2 C787.4,720.8 797.8,721.7 801.0,722.0" fill="none" stroke="#3c6699" stroke-width="7.3" stroke-linejoin="round" stroke-linecap="butt" clip-path="url(#clip496_545)"/>
<path d="M496.4,726.7 C504.8,726.5 531.3,725.8 546.8,725.3 C562.3,724.9 577.5,724.6 589.3,723.9 C601.1,723.3 610.7,722.2 617.8,721.3 C624.9,720.4 626.8,719.5 631.9,718.8 C637.1,718.1 644.4,717.3 648.7,717.1 C653.0,716.9 654.6,717.3 657.8,717.7 C661.1,718.1 664.2,718.9 668.3,719.6 C672.5,720.4 675.4,721.3 682.5,722.0 C689.6,722.7 699.0,723.5 710.8,724.1 C722.7,724.7 738.5,725.1 753.5,725.5 C768.5,725.8 793.1,726.1 801.0,726.2" fill="none" stroke="#000" stroke-width="7.3" stroke-linejoin="round" stroke-linecap="butt" clip-path="url(#clip496_545)"/>
<text x="631.2" y="572.5" font-size="18.3" font-weight="normal" text-anchor="end" fill="#000" >120</text>
<text x="631.2" y="628.1" font-size="18.3" font-weight="normal" text-anchor="end" fill="#000" >80</text>
<text x="631.2" y="683.7" font-size="18.3" font-weight="normal" text-anchor="end" fill="#000" >40</text>
<text x="631.2" y="739.3" font-size="18.3" font-weight="normal" text-anchor="end" fill="#000" >0</text>
<text x="652" y="540.7" font-size="27.6" font-weight="normal" text-anchor="middle" fill="#000" >Proximal</text>
<text x="716.3" y="566.0" font-size="23" font-weight="bold" text-anchor="start" fill="#000" >No Dox</text>
<text x="716.8" y="593.5" font-size="23" font-weight="bold" text-anchor="start" fill="#3c6699" >+Dox</text>
<text transform="translate(489.0,639.9) rotate(-90) scale(1,1.06)" font-size="22.8" font-weight="bold" text-anchor="middle">Coverage</text>
<text x="653.2" y="789" font-size="18.4" font-weight="bold" text-anchor="middle" fill="#000" >Distance from RUNX1 peak centre</text>
<text x="723.7" y="828" font-size="27.5" font-weight="normal" text-anchor="end" fill="#000" >BRD4 enrichment at RUNX1 peaks</text>
<line x1="165.5" y1="835.6" x2="782.4" y2="835.6" stroke="#000" stroke-width="2"/>
<path d="M132.45,1059.5 V866.5 H434.2 V1059.5" fill="none" stroke="#000" stroke-width="1.8"/>
<line x1="132.45" y1="1054" x2="434.2" y2="1054" stroke="#1a1a1a" stroke-width="1.8"/>
<line x1="283.4" y1="866.5" x2="283.4" y2="1059.5" stroke="#000" stroke-width="1.4"/>
<line x1="207.9" y1="1054" x2="207.9" y2="1059.5" stroke="#000" stroke-width="1.4"/>
<line x1="358.8" y1="1054" x2="358.8" y2="1059.5" stroke="#000" stroke-width="1.4"/>
<text x="132.4" y="1081.4" font-size="18.3" font-weight="normal" text-anchor="middle" fill="#000" >-1000</text>
<text x="207.9" y="1081.4" font-size="18.3" font-weight="normal" text-anchor="middle" fill="#000" >-500</text>
<text x="283.3" y="1081.4" font-size="18.3" font-weight="normal" text-anchor="middle" fill="#000" >0</text>
<text x="358.8" y="1081.4" font-size="18.3" font-weight="normal" text-anchor="middle" fill="#000" >500</text>
<text x="434.2" y="1081.4" font-size="18.3" font-weight="normal" text-anchor="middle" fill="#000" >1000</text>
<line x1="277.8" y1="878.4" x2="283.4" y2="878.4" stroke="#000" stroke-width="1.4"/>
<line x1="277.8" y1="936.5" x2="283.4" y2="936.5" stroke="#000" stroke-width="1.4"/>
<line x1="277.8" y1="995.0" x2="283.4" y2="995.0" stroke="#000" stroke-width="1.4"/>
<line x1="277.8" y1="1053.7" x2="283.4" y2="1053.7" stroke="#000" stroke-width="1.4"/>
<clipPath id="clip132_866"><rect x="131.45" y="854.5" width="305.25" height="207.5"/></clipPath>
<path d="M132.4,1042.7 C135.9,1042.2 147.6,1040.6 153.4,1039.7 C159.3,1038.7 162.9,1038.0 167.6,1037.0 C172.3,1036.0 176.9,1034.8 181.6,1033.5 C186.3,1032.2 191.1,1031.0 195.8,1029.3 C200.5,1027.5 204.9,1025.6 210.0,1022.8 C215.1,1020.1 222.1,1016.5 226.3,1012.9 C230.5,1009.4 232.4,1005.8 235.2,1001.6 C238.0,997.3 240.6,992.2 242.9,987.4 C245.2,982.7 247.0,978.0 248.9,973.3 C250.8,968.6 252.5,963.8 254.2,959.0 C255.9,954.3 257.4,949.7 258.9,945.0 C260.4,940.3 261.9,935.5 263.3,930.8 C264.6,926.0 265.6,921.3 266.9,916.6 C268.1,911.9 269.4,907.1 270.8,902.4 C272.2,897.6 274.1,892.1 275.5,888.2 C276.9,884.3 277.9,881.1 279.1,879.0 C280.3,876.9 281.4,875.6 282.6,875.6 C283.7,875.6 284.9,876.9 286.0,879.0 C287.2,881.1 288.4,884.3 289.7,888.2 C291.0,892.1 292.6,897.6 293.9,902.4 C295.2,907.1 296.3,911.9 297.5,916.6 C298.7,921.3 299.7,926.0 301.0,930.8 C302.2,935.5 303.5,940.3 304.9,945.0 C306.3,949.7 307.9,954.3 309.6,959.0 C311.3,963.8 313.1,968.6 315.2,973.3 C317.2,978.0 319.4,982.7 321.8,987.4 C324.2,992.2 327.1,997.3 329.8,1001.6 C332.5,1005.8 334.0,1009.4 337.8,1012.9 C341.6,1016.5 347.9,1020.0 352.7,1022.8 C357.6,1025.7 362.1,1027.7 366.9,1029.7 C371.7,1031.8 376.5,1033.3 381.4,1035.0 C386.3,1036.7 390.6,1038.1 396.5,1039.7 C402.3,1041.2 410.3,1043.2 416.5,1044.4 C422.8,1045.5 431.3,1046.3 434.2,1046.7" fill="none" stroke="#3c6699" stroke-width="7.3" stroke-linejoin="round" stroke-linecap="butt" clip-path="url(#clip132_866)"/>
<path d="M132.4,1042.9 C135.9,1042.6 147.6,1041.6 153.4,1040.8 C159.3,1040.1 162.9,1039.5 167.6,1038.6 C172.3,1037.7 176.9,1036.8 181.6,1035.6 C186.3,1034.4 191.1,1033.1 195.8,1031.6 C200.5,1030.1 205.3,1028.6 210.0,1026.5 C214.7,1024.3 220.6,1020.9 224.2,1018.6 C227.7,1016.4 228.9,1015.1 231.3,1012.9 C233.6,1010.8 236.0,1008.3 238.4,1005.8 C240.7,1003.2 243.1,1000.5 245.5,997.6 C247.8,994.7 250.2,991.6 252.5,988.3 C254.9,984.9 257.1,981.1 259.5,977.5 C261.8,973.9 264.2,969.8 266.6,966.9 C268.9,963.9 271.6,961.4 273.7,959.6 C275.7,957.8 277.3,956.8 278.8,956.0 C280.3,955.2 281.3,954.9 282.6,954.9 C283.9,955.0 285.1,955.2 286.6,956.4 C288.2,957.5 289.7,959.1 291.8,961.6 C293.8,964.1 296.5,967.9 298.9,971.5 C301.2,975.2 303.6,979.8 306.0,983.6 C308.3,987.4 310.7,991.0 313.0,994.2 C315.4,997.4 317.8,1000.3 320.1,1003.0 C322.5,1005.6 324.9,1007.9 327.2,1010.1 C329.6,1012.3 331.3,1013.8 334.3,1016.1 C337.4,1018.3 341.4,1021.2 345.6,1023.5 C349.9,1025.9 355.1,1028.0 359.8,1030.0 C364.5,1031.9 369.3,1033.8 374.0,1035.4 C378.7,1036.9 383.5,1038.2 388.2,1039.2 C392.9,1040.2 397.6,1040.9 402.4,1041.5 C407.1,1042.2 411.2,1042.7 416.5,1043.3 C421.9,1043.9 431.3,1044.7 434.2,1044.9" fill="none" stroke="#000" stroke-width="7.3" stroke-linejoin="round" stroke-linecap="butt" clip-path="url(#clip132_866)"/>
<text x="267.6" y="885.0" font-size="18.3" font-weight="normal" text-anchor="end" fill="#000" >19</text>
<text x="267.6" y="943.1" font-size="18.3" font-weight="normal" text-anchor="end" fill="#000" >14</text>
<text x="267.6" y="1001.6" font-size="18.3" font-weight="normal" text-anchor="end" fill="#000" >9</text>
<text x="267.6" y="1060.3" font-size="18.3" font-weight="normal" text-anchor="end" fill="#000" >4</text>
<text x="287" y="862.0" font-size="27.6" font-weight="normal" text-anchor="middle" fill="#000" >Distal</text>
<text x="353.1" y="885.8" font-size="23" font-weight="bold" text-anchor="start" fill="#000" >No Dox</text>
<text x="353.6" y="913.0" font-size="23" font-weight="bold" text-anchor="start" fill="#3c6699" >+Dox</text>
<text transform="translate(125.0,961.0) rotate(-90) scale(1,1.06)" font-size="22.8" font-weight="bold" text-anchor="middle">Coverage</text>
<text x="287.825" y="1110" font-size="18.4" font-weight="bold" text-anchor="middle" fill="#000" >Distance from RUNX1 peak centre</text>
<path d="M499,1059.5 V866.5 H801 V1059.5" fill="none" stroke="#000" stroke-width="1.8"/>
<line x1="499" y1="1054" x2="801" y2="1054" stroke="#1a1a1a" stroke-width="1.8"/>
<line x1="650.2" y1="866.5" x2="650.2" y2="1059.5" stroke="#8c8c8c" stroke-width="1.4"/>
<line x1="574.5" y1="1054" x2="574.5" y2="1059.5" stroke="#000" stroke-width="1.4"/>
<line x1="725.5" y1="1054" x2="725.5" y2="1059.5" stroke="#000" stroke-width="1.4"/>
<text x="499.0" y="1081.4" font-size="18.3" font-weight="normal" text-anchor="middle" fill="#000" >-1000</text>
<text x="574.5" y="1081.4" font-size="18.3" font-weight="normal" text-anchor="middle" fill="#000" >-500</text>
<text x="650.0" y="1081.4" font-size="18.3" font-weight="normal" text-anchor="middle" fill="#000" >0</text>
<text x="725.5" y="1081.4" font-size="18.3" font-weight="normal" text-anchor="middle" fill="#000" >500</text>
<text x="801.0" y="1081.4" font-size="18.3" font-weight="normal" text-anchor="middle" fill="#000" >1000</text>
<line x1="644.6" y1="892.9" x2="650.2" y2="892.9" stroke="#8c8c8c" stroke-width="1.4"/>
<line x1="644.6" y1="932.8" x2="650.2" y2="932.8" stroke="#8c8c8c" stroke-width="1.4"/>
<line x1="644.6" y1="973.0" x2="650.2" y2="973.0" stroke="#8c8c8c" stroke-width="1.4"/>
<line x1="644.6" y1="1013.4" x2="650.2" y2="1013.4" stroke="#8c8c8c" stroke-width="1.4"/>
<line x1="644.6" y1="1053.7" x2="650.2" y2="1053.7" stroke="#8c8c8c" stroke-width="1.4"/>
<clipPath id="clip499_866"><rect x="498" y="854.5" width="305.5" height="207.5"/></clipPath>
<path d="M499.0,1043.0 C501.8,1041.8 509.6,1038.7 515.7,1035.9 C521.8,1033.1 529.0,1029.8 535.7,1026.2 C542.4,1022.7 550.7,1017.7 555.7,1014.6 C560.7,1011.5 562.4,1010.2 565.7,1007.7 C569.0,1005.2 572.4,1002.6 575.7,999.7 C579.0,996.8 582.5,993.6 585.7,990.4 C589.0,987.2 592.4,984.0 595.2,980.7 C598.0,977.4 600.4,974.0 602.7,970.7 C605.0,967.4 607.3,964.0 609.2,960.7 C611.1,957.4 612.6,954.0 614.2,950.7 C615.8,947.4 617.2,944.0 618.7,940.7 C620.2,937.4 621.7,934.2 623.2,930.7 C624.7,927.2 626.3,923.2 627.7,919.7 C629.1,916.1 630.4,912.9 631.7,909.5 C633.0,906.1 634.2,902.3 635.5,899.1 C636.8,895.9 638.0,893.1 639.2,890.3 C640.4,887.6 641.4,885.0 642.6,882.7 C643.9,880.4 645.2,878.1 646.7,876.6 C648.2,875.2 650.0,873.9 651.7,873.9 C653.4,873.9 655.2,875.2 656.7,876.6 C658.2,878.1 659.5,880.4 660.8,882.7 C662.1,885.0 663.4,887.7 664.7,890.5 C666.0,893.2 667.3,896.1 668.7,899.2 C670.1,902.4 671.5,906.2 673.0,909.6 C674.5,913.0 675.9,916.3 677.4,919.7 C678.9,923.0 680.4,926.4 682.0,929.7 C683.6,933.0 685.3,936.4 686.9,939.7 C688.6,943.0 690.2,946.4 691.9,949.7 C693.6,953.0 695.3,956.7 696.9,959.7 C698.5,962.7 699.8,965.1 701.3,967.7 C702.8,970.3 704.1,972.8 705.7,975.3 C707.3,977.8 709.0,980.4 710.7,982.7 C712.4,985.0 713.2,986.4 715.7,989.2 C718.2,992.0 722.4,996.5 725.7,999.7 C729.0,1003.0 732.4,1006.0 735.7,1008.7 C739.0,1011.4 742.4,1013.7 745.7,1015.9 C749.0,1018.2 752.4,1020.3 755.7,1022.2 C759.0,1024.1 762.4,1025.8 765.7,1027.5 C769.0,1029.2 772.4,1030.8 775.7,1032.2 C779.0,1033.6 782.4,1035.0 785.7,1036.1 C789.0,1037.2 793.2,1038.2 795.7,1038.9 C798.2,1039.6 800.1,1040.0 801.0,1040.2" fill="none" stroke="#3c6699" stroke-width="7.3" stroke-linejoin="round" stroke-linecap="butt" clip-path="url(#clip499_866)"/>
<path d="M499.0,1042.2 C501.7,1041.0 509.0,1038.0 515.0,1035.2 C521.0,1032.4 528.3,1029.0 535.0,1025.5 C541.7,1022.0 550.0,1017.0 555.0,1013.9 C560.0,1010.8 561.7,1009.5 565.0,1007.0 C568.3,1004.5 571.7,1001.9 575.0,999.0 C578.3,996.1 581.8,992.9 585.0,989.7 C588.2,986.5 591.7,983.3 594.5,980.0 C597.3,976.7 599.7,973.3 602.0,970.0 C604.3,966.7 606.6,963.3 608.5,960.0 C610.4,956.7 611.9,953.3 613.5,950.0 C615.1,946.7 616.5,943.3 618.0,940.0 C619.5,936.7 621.0,933.3 622.5,930.0 C624.0,926.7 625.6,923.3 627.0,920.0 C628.4,916.7 629.7,913.3 631.0,910.0 C632.3,906.7 633.5,903.0 634.8,900.0 C636.0,897.0 637.3,894.4 638.5,892.0 C639.7,889.6 640.6,887.3 641.9,885.5 C643.1,883.7 644.5,882.0 646.0,881.0 C647.5,880.0 649.3,879.2 651.0,879.2 C652.7,879.2 654.5,880.0 656.0,881.0 C657.5,882.0 658.8,883.7 660.1,885.5 C661.4,887.3 662.7,889.6 664.0,892.0 C665.3,894.4 666.6,897.0 668.0,900.0 C669.4,903.0 670.8,906.7 672.3,910.0 C673.8,913.3 675.2,916.7 676.7,920.0 C678.2,923.3 679.7,926.7 681.3,930.0 C682.9,933.3 684.6,936.7 686.2,940.0 C687.9,943.3 689.5,946.7 691.2,950.0 C692.9,953.3 694.6,957.0 696.2,960.0 C697.8,963.0 699.1,965.4 700.6,968.0 C702.1,970.6 703.4,973.1 705.0,975.6 C706.6,978.1 708.3,980.7 710.0,983.0 C711.7,985.3 712.5,986.7 715.0,989.5 C717.5,992.3 721.7,996.8 725.0,1000.0 C728.3,1003.2 731.7,1006.3 735.0,1009.0 C738.3,1011.7 741.7,1014.0 745.0,1016.2 C748.3,1018.5 751.7,1020.6 755.0,1022.5 C758.3,1024.4 761.7,1026.1 765.0,1027.8 C768.3,1029.5 771.7,1031.1 775.0,1032.5 C778.3,1033.9 781.7,1035.3 785.0,1036.4 C788.3,1037.5 792.3,1038.5 795.0,1039.2 C797.7,1039.9 800.0,1040.5 801.0,1040.8" fill="none" stroke="#000" stroke-width="7.3" stroke-linejoin="round" stroke-linecap="butt" clip-path="url(#clip499_866)"/>
<text x="633.7" y="899.5" font-size="18.3" font-weight="normal" text-anchor="end" fill="#000" >40</text>
<text x="633.7" y="939.4" font-size="18.3" font-weight="normal" text-anchor="end" fill="#000" >31</text>
<text x="633.7" y="979.6" font-size="18.3" font-weight="normal" text-anchor="end" fill="#000" >22</text>
<text x="633.7" y="1020.0" font-size="18.3" font-weight="normal" text-anchor="end" fill="#000" >13</text>
<text x="633.7" y="1060.3" font-size="18.3" font-weight="normal" text-anchor="end" fill="#000" >4</text>
<text x="652" y="862.0" font-size="27.6" font-weight="normal" text-anchor="middle" fill="#000" >Proximal</text>
<text x="718.3" y="885.9" font-size="23" font-weight="bold" text-anchor="start" fill="#000" >No Dox</text>
<text x="718.8" y="913.0" font-size="23" font-weight="bold" text-anchor="start" fill="#3c6699" >+Dox</text>
<text transform="translate(491.6,961.0) rotate(-90) scale(1,1.06)" font-size="22.8" font-weight="bold" text-anchor="middle">Coverage</text>
<text x="654.5" y="1110" font-size="18.4" font-weight="bold" text-anchor="middle" fill="#000" >Distance from RUNX1 peak centre</text>
<text x="722.5" y="1146" font-size="27.5" font-weight="normal" text-anchor="end" fill="#000" >H4K5Ac enrichment at RUNX1 peaks</text>
<line x1="165.5" y1="1152.8" x2="782.4" y2="1152.8" stroke="#000" stroke-width="2"/>
<path d="M132.45,1375.3 V1183.2 H434.2 V1375.3" fill="none" stroke="#000" stroke-width="1.8"/>
<line x1="132.45" y1="1369.8" x2="434.2" y2="1369.8" stroke="#1a1a1a" stroke-width="1.8"/>
<line x1="283.4" y1="1183.2" x2="283.4" y2="1375.3" stroke="#000" stroke-width="1.4"/>
<line x1="207.9" y1="1369.8" x2="207.9" y2="1375.3" stroke="#000" stroke-width="1.4"/>
<line x1="358.8" y1="1369.8" x2="358.8" y2="1375.3" stroke="#000" stroke-width="1.4"/>
<text x="132.4" y="1397.2" font-size="18.3" font-weight="normal" text-anchor="middle" fill="#000" >-1000</text>
<text x="207.9" y="1397.2" font-size="18.3" font-weight="normal" text-anchor="middle" fill="#000" >-500</text>
<text x="283.3" y="1397.2" font-size="18.3" font-weight="normal" text-anchor="middle" fill="#000" >0</text>
<text x="358.8" y="1397.2" font-size="18.3" font-weight="normal" text-anchor="middle" fill="#000" >500</text>
<text x="434.2" y="1397.2" font-size="18.3" font-weight="normal" text-anchor="middle" fill="#000" >1000</text>
<line x1="277.8" y1="1209.0" x2="283.4" y2="1209.0" stroke="#000" stroke-width="1.4"/>
<line x1="277.8" y1="1262.6" x2="283.4" y2="1262.6" stroke="#000" stroke-width="1.4"/>
<line x1="277.8" y1="1316.2" x2="283.4" y2="1316.2" stroke="#000" stroke-width="1.4"/>
<line x1="277.8" y1="1369.5" x2="283.4" y2="1369.5" stroke="#000" stroke-width="1.4"/>
<clipPath id="clip132_1183"><rect x="131.45" y="1171.2" width="305.25" height="206.5999999999999"/></clipPath>
<path d="M132.4,1328.9 C133.5,1328.5 136.9,1327.6 139.2,1326.5 C141.5,1325.3 143.9,1323.5 146.3,1321.8 C148.6,1320.1 151.0,1318.1 153.3,1316.1 C155.7,1314.1 158.1,1311.8 160.4,1309.8 C162.8,1307.7 165.1,1305.9 167.5,1303.8 C169.9,1301.7 172.2,1299.3 174.6,1297.0 C176.9,1294.7 179.3,1292.4 181.7,1289.9 C184.0,1287.4 186.4,1284.8 188.8,1282.1 C191.1,1279.4 193.5,1276.8 195.8,1273.6 C198.2,1270.4 200.6,1266.8 202.9,1263.0 C205.3,1259.2 207.6,1255.3 210.0,1251.0 C212.4,1246.6 214.7,1241.4 217.1,1236.8 C219.4,1232.2 221.8,1227.6 224.2,1223.3 C226.5,1219.1 229.1,1214.5 231.3,1211.3 C233.4,1208.1 235.1,1205.7 236.9,1204.2 C238.7,1202.7 240.2,1202.0 241.9,1202.1 C243.5,1202.2 245.1,1202.8 246.8,1204.9 C248.6,1207.0 250.6,1210.8 252.5,1214.8 C254.4,1218.8 256.4,1224.0 258.2,1229.0 C259.9,1234.0 261.5,1239.2 263.1,1244.6 C264.8,1250.0 266.4,1256.4 268.1,1261.6 C269.7,1266.8 271.4,1272.0 273.0,1275.8 C274.7,1279.5 276.3,1282.3 278.0,1284.3 C279.7,1286.2 281.5,1287.5 283.4,1287.4 C285.2,1287.2 287.5,1286.0 289.2,1283.5 C290.8,1281.1 292.0,1277.0 293.4,1272.9 C294.8,1268.8 296.3,1263.7 297.7,1258.8 C299.1,1253.8 300.5,1248.1 301.9,1243.2 C303.3,1238.2 304.8,1233.3 306.2,1229.0 C307.6,1224.8 308.8,1220.9 310.4,1217.7 C312.1,1214.5 314.0,1211.5 316.1,1209.9 C318.2,1208.2 320.8,1207.5 323.2,1207.8 C325.5,1208.0 328.1,1209.4 330.3,1211.3 C332.4,1213.2 334.0,1216.1 335.9,1219.1 C337.8,1222.0 339.5,1225.5 341.6,1229.0 C343.7,1232.5 346.3,1236.3 348.7,1240.3 C351.0,1244.3 353.4,1249.1 355.8,1253.1 C358.1,1257.1 360.5,1260.8 362.8,1264.4 C365.2,1268.1 367.6,1271.7 369.9,1275.0 C372.3,1278.3 374.6,1281.1 377.0,1284.3 C379.4,1287.4 381.7,1290.9 384.1,1294.2 C386.4,1297.5 388.8,1301.4 391.2,1304.1 C393.5,1306.8 395.9,1308.6 398.3,1310.5 C400.6,1312.3 403.0,1313.8 405.3,1315.4 C407.7,1317.1 410.1,1319.0 412.4,1320.4 C414.8,1321.8 417.1,1322.6 419.5,1323.9 C421.9,1325.2 424.1,1326.8 426.6,1328.2 C429.1,1329.6 433.1,1331.7 434.4,1332.4" fill="none" stroke="#3c6699" stroke-width="7.3" stroke-linejoin="round" stroke-linecap="butt" clip-path="url(#clip132_1183)"/>
<path d="M132.5,1357.8 C133.8,1357.4 137.1,1356.1 140.0,1355.2 C142.9,1354.3 146.7,1353.8 150.0,1352.5 C153.3,1351.2 156.7,1348.8 160.0,1347.5 C163.3,1346.2 166.7,1346.0 170.0,1344.7 C173.3,1343.4 176.7,1341.6 180.0,1339.7 C183.3,1337.8 186.7,1336.1 190.0,1333.5 C193.3,1330.9 196.7,1327.6 200.0,1324.2 C203.3,1320.8 206.7,1316.7 210.0,1313.0 C213.3,1309.3 216.7,1305.5 220.0,1302.0 C223.3,1298.5 226.7,1295.0 230.0,1292.0 C233.3,1289.0 237.4,1285.6 240.0,1284.0 C242.6,1282.4 243.3,1282.4 245.4,1282.6 C247.5,1282.8 250.1,1283.5 252.5,1285.0 C254.9,1286.4 257.2,1289.0 259.6,1291.3 C261.9,1293.7 264.3,1296.8 266.7,1299.1 C269.0,1301.5 271.0,1304.0 273.8,1305.5 C276.5,1307.0 280.6,1308.3 283.4,1308.3 C286.2,1308.3 288.2,1306.9 290.6,1305.5 C293.0,1304.1 295.3,1301.6 297.7,1299.8 C300.0,1298.1 302.4,1296.3 304.8,1294.9 C307.1,1293.4 309.5,1291.9 311.8,1291.1 C314.2,1290.2 316.6,1289.9 318.9,1289.9 C321.3,1290.0 323.6,1290.5 326.0,1291.3 C328.4,1292.2 330.7,1293.2 333.1,1294.9 C335.4,1296.5 337.8,1299.0 340.2,1301.3 C342.5,1303.5 344.9,1305.9 347.3,1308.3 C349.6,1310.8 352.0,1313.8 354.3,1316.1 C356.7,1318.5 359.1,1320.4 361.4,1322.5 C363.8,1324.6 366.1,1326.8 368.5,1328.9 C370.9,1331.0 373.2,1333.0 375.6,1335.3 C377.9,1337.5 380.3,1340.2 382.7,1342.3 C385.0,1344.5 387.4,1346.5 389.8,1348.0 C392.1,1349.5 394.5,1350.5 396.8,1351.5 C399.2,1352.6 401.6,1353.5 403.9,1354.4 C406.3,1355.2 408.6,1356.1 411.0,1356.8 C413.4,1357.5 415.7,1358.0 418.1,1358.6 C420.4,1359.3 422.5,1359.9 425.2,1360.8 C427.9,1361.6 432.8,1363.1 434.4,1363.6" fill="none" stroke="#000" stroke-width="7.3" stroke-linejoin="round" stroke-linecap="butt" clip-path="url(#clip132_1183)"/>
<text x="267.6" y="1215.6" font-size="18.3" font-weight="normal" text-anchor="end" fill="#000" >15</text>
<text x="267.6" y="1269.2" font-size="18.3" font-weight="normal" text-anchor="end" fill="#000" >13</text>
<text x="267.6" y="1322.8" font-size="18.3" font-weight="normal" text-anchor="end" fill="#000" >11</text>
<text x="267.6" y="1376.1" font-size="18.3" font-weight="normal" text-anchor="end" fill="#000" >9</text>
<text x="287" y="1178.7" font-size="27.6" font-weight="normal" text-anchor="middle" fill="#000" >Distal</text>
<text x="353.1" y="1202.0" font-size="23" font-weight="bold" text-anchor="start" fill="#000" >No Dox</text>
<text x="353.6" y="1229.5" font-size="23" font-weight="bold" text-anchor="start" fill="#3c6699" >+Dox</text>
<text transform="translate(125.0,1277.3) rotate(-90) scale(1,1.06)" font-size="22.8" font-weight="bold" text-anchor="middle">Coverage</text>
<text x="287.825" y="1425.8" font-size="18.4" font-weight="bold" text-anchor="middle" fill="#000" >Distance from RUNX1 peak centre</text>
<path d="M499,1375.3 V1183.2 H801 V1375.3" fill="none" stroke="#000" stroke-width="1.8"/>
<line x1="499" y1="1369.8" x2="801" y2="1369.8" stroke="#1a1a1a" stroke-width="1.8"/>
<line x1="650.2" y1="1183.2" x2="650.2" y2="1375.3" stroke="#000" stroke-width="1.4"/>
<line x1="574.5" y1="1369.8" x2="574.5" y2="1375.3" stroke="#000" stroke-width="1.4"/>
<line x1="725.5" y1="1369.8" x2="725.5" y2="1375.3" stroke="#000" stroke-width="1.4"/>
<text x="499.0" y="1397.2" font-size="18.3" font-weight="normal" text-anchor="middle" fill="#000" >-1000</text>
<text x="574.5" y="1397.2" font-size="18.3" font-weight="normal" text-anchor="middle" fill="#000" >-500</text>
<text x="650.0" y="1397.2" font-size="18.3" font-weight="normal" text-anchor="middle" fill="#000" >0</text>
<text x="725.5" y="1397.2" font-size="18.3" font-weight="normal" text-anchor="middle" fill="#000" >500</text>
<text x="801.0" y="1397.2" font-size="18.3" font-weight="normal" text-anchor="middle" fill="#000" >1000</text>
<line x1="644.6" y1="1194.8" x2="650.2" y2="1194.8" stroke="#000" stroke-width="1.4"/>
<line x1="644.6" y1="1238.4" x2="650.2" y2="1238.4" stroke="#000" stroke-width="1.4"/>
<line x1="644.6" y1="1282.0" x2="650.2" y2="1282.0" stroke="#000" stroke-width="1.4"/>
<line x1="644.6" y1="1325.7" x2="650.2" y2="1325.7" stroke="#000" stroke-width="1.4"/>
<line x1="644.6" y1="1369.4" x2="650.2" y2="1369.4" stroke="#000" stroke-width="1.4"/>
<clipPath id="clip499_1183"><rect x="498" y="1171.2" width="305.5" height="206.5999999999999"/></clipPath>
<path d="M499.0,1328.5 C500.3,1327.8 504.3,1325.9 507.0,1324.5 C509.7,1323.1 512.0,1321.8 515.0,1320.0 C518.0,1318.2 521.7,1316.0 525.0,1313.8 C528.3,1311.6 531.7,1309.6 535.0,1307.0 C538.3,1304.4 541.7,1301.3 545.0,1298.3 C548.3,1295.3 551.7,1292.0 555.0,1289.0 C558.3,1286.0 561.7,1283.1 565.0,1280.0 C568.3,1276.9 571.7,1273.7 575.0,1270.5 C578.3,1267.3 581.7,1263.4 585.0,1260.7 C588.3,1258.0 591.7,1256.1 595.0,1254.2 C598.3,1252.3 601.7,1250.7 605.0,1249.5 C608.3,1248.3 611.7,1248.0 615.0,1247.2 C618.3,1246.4 621.7,1246.0 625.0,1244.5 C628.3,1243.0 631.7,1241.3 635.0,1238.0 C638.3,1234.7 642.5,1228.4 645.0,1224.5 C647.5,1220.6 648.5,1217.8 650.3,1214.5 C652.1,1211.2 653.8,1207.8 655.6,1204.9 C657.4,1202.0 659.1,1199.0 661.3,1197.1 C663.4,1195.3 666.0,1194.2 668.3,1193.9 C670.7,1193.6 673.1,1194.2 675.4,1195.3 C677.8,1196.4 680.1,1198.4 682.5,1200.7 C684.9,1203.0 687.2,1206.2 689.6,1209.2 C691.9,1212.1 694.3,1215.2 696.7,1218.4 C699.0,1221.6 701.4,1224.9 703.8,1228.3 C706.1,1231.7 708.5,1235.3 710.8,1238.9 C713.2,1242.6 715.6,1246.6 717.9,1250.3 C720.3,1253.9 722.6,1257.5 725.0,1260.9 C727.4,1264.3 729.7,1267.6 732.1,1270.8 C734.4,1274.0 736.8,1277.0 739.2,1280.0 C741.5,1283.0 743.9,1285.8 746.3,1288.5 C748.6,1291.2 751.0,1293.8 753.3,1296.3 C755.7,1298.8 758.1,1301.1 760.4,1303.4 C762.8,1305.6 765.1,1307.9 767.5,1309.8 C769.9,1311.6 772.2,1313.2 774.6,1314.7 C776.9,1316.2 779.3,1317.7 781.7,1319.0 C784.0,1320.3 785.6,1321.1 788.8,1322.5 C791.9,1323.9 798.8,1326.6 800.8,1327.5" fill="none" stroke="#3c6699" stroke-width="7.3" stroke-linejoin="round" stroke-linecap="butt" clip-path="url(#clip499_1183)"/>
<path d="M499.0,1339.0 C501.7,1337.8 509.0,1334.7 515.0,1331.5 C521.0,1328.3 528.3,1324.1 535.0,1320.0 C541.7,1315.9 550.0,1310.4 555.0,1307.0 C560.0,1303.6 561.7,1302.0 565.0,1299.5 C568.3,1297.0 571.7,1294.5 575.0,1292.3 C578.3,1290.1 581.7,1288.1 585.0,1286.5 C588.3,1284.9 591.7,1283.8 595.0,1282.8 C598.3,1281.8 601.7,1281.0 605.0,1280.2 C608.3,1279.4 611.7,1279.0 615.0,1278.2 C618.3,1277.4 621.7,1277.0 625.0,1275.5 C628.3,1274.0 631.7,1272.1 635.0,1269.2 C638.3,1266.3 642.5,1261.2 645.0,1258.2 C647.5,1255.2 648.5,1253.5 650.3,1251.5 C652.1,1249.5 653.8,1247.7 655.6,1246.0 C657.4,1244.3 659.1,1242.2 661.3,1241.0 C663.4,1239.9 666.0,1239.2 668.3,1239.2 C670.7,1239.2 673.1,1240.0 675.4,1241.0 C677.8,1242.1 680.1,1243.4 682.5,1245.3 C684.9,1247.2 687.2,1250.0 689.6,1252.4 C691.9,1254.7 694.3,1257.2 696.7,1259.5 C699.0,1261.7 701.4,1263.4 703.8,1265.8 C706.1,1268.3 708.5,1271.6 710.8,1274.3 C713.2,1277.0 715.6,1279.8 717.9,1282.1 C720.3,1284.5 722.6,1286.1 725.0,1288.5 C727.4,1290.9 729.7,1293.7 732.1,1296.3 C734.4,1298.9 736.8,1301.7 739.2,1304.1 C741.5,1306.4 743.9,1308.5 746.3,1310.5 C748.6,1312.5 751.0,1314.4 753.3,1316.1 C755.7,1317.9 758.1,1319.5 760.4,1321.1 C762.8,1322.6 765.1,1324.0 767.5,1325.3 C769.9,1326.6 772.2,1327.8 774.6,1328.9 C776.9,1329.9 779.3,1330.8 781.7,1331.7 C784.0,1332.7 785.6,1333.3 788.8,1334.5 C791.9,1335.8 798.8,1338.4 800.8,1339.2" fill="none" stroke="#000" stroke-width="7.3" stroke-linejoin="round" stroke-linecap="butt" clip-path="url(#clip499_1183)"/>
<text x="633.7" y="1201.4" font-size="18.3" font-weight="normal" text-anchor="end" fill="#000" >32</text>
<text x="633.7" y="1245.0" font-size="18.3" font-weight="normal" text-anchor="end" fill="#000" >25</text>
<text x="633.7" y="1288.6" font-size="18.3" font-weight="normal" text-anchor="end" fill="#000" >18</text>
<text x="633.7" y="1332.3" font-size="18.3" font-weight="normal" text-anchor="end" fill="#000" >11</text>
<text x="633.7" y="1376.0" font-size="18.3" font-weight="normal" text-anchor="end" fill="#000" >4</text>
<text x="652" y="1178.7" font-size="27.6" font-weight="normal" text-anchor="middle" fill="#000" >Proximal</text>
<text x="718.3" y="1201.9" font-size="23" font-weight="bold" text-anchor="start" fill="#000" >No Dox</text>
<text x="718.8" y="1229.3" font-size="23" font-weight="bold" text-anchor="start" fill="#3c6699" >+Dox</text>
<text transform="translate(491.6,1277.3) rotate(-90) scale(1,1.06)" font-size="22.8" font-weight="bold" text-anchor="middle">Coverage</text>
<text x="654.5" y="1425.8" font-size="18.4" font-weight="bold" text-anchor="middle" fill="#000" >Distance from RUNX1 peak centre</text>
</svg>
</body></html>
